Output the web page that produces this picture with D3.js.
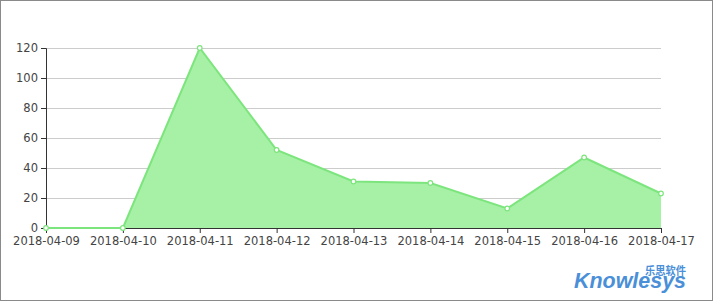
<!DOCTYPE html>
<html>
<head>
<meta charset="utf-8">
<script src="https://cdn.jsdelivr.net/npm/d3@7"></script>
<style>
  body { margin: 0; background: #fff; }
  svg { display: block; }
</style>
</head>
<body>
<script>
"use strict";

const dates = ["2018-04-09", "2018-04-10", "2018-04-11", "2018-04-12", "2018-04-13",
  "2018-04-14", "2018-04-15", "2018-04-16", "2018-04-17"];
const counts = [0, 0, 120, 52, 31, 30, 13, 47, 23];
const yTicks = [0, 20, 40, 60, 80, 100, 120];

const width = 715, height = 303;
const margin = { left: 46, right: 54, top: 48, bottom: 75 };

let svg = d3.select("body").append("svg")
  .attr("width", width)
  .attr("height", height);

// frame
svg.append("rect")
  .attr("x", 0.5).attr("y", 0.5)
  .attr("width", 712).attr("height", 300)
  .attr("fill", "#fff")
  .attr("stroke", "#8a8a8a");

let x = d3.scalePoint()
  .domain(dates)
  .range([margin.left, width - margin.right]);

let y = d3.scaleLinear()
  .domain([0, 120])
  .range([height - margin.bottom, margin.top]);

// grid
svg.append("g")
  .selectAll("line")
  .data(yTicks.filter(d => d > 0))
  .enter()
  .append("line")
  .attr("x1", margin.left).attr("x2", width - margin.right)
  .attr("y1", d => Math.round(y(d)) + 0.5)
  .attr("y2", d => Math.round(y(d)) + 0.5)
  .attr("stroke", "#cccccc");

// axes (drawn under the series)
let yAxis = svg.append("g")
  .attr("transform", `translate(${margin.left},0)`)
  .call(d3.axisLeft(y).tickValues(yTicks).tickSizeOuter(0).tickSize(5).tickPadding(3));

let xAxis = svg.append("g")
  .attr("transform", `translate(0,${y(0)})`)
  .call(d3.axisBottom(x).tickSizeOuter(0).tickSize(5).tickPadding(4));

[xAxis, yAxis].forEach(g => {
  g.select(".domain").attr("stroke", "#333");
  g.selectAll(".tick line").attr("stroke", "#333");
  g.selectAll("text")
    .attr("fill", "#444")
    .style("font-family", "'DejaVu Sans', sans-serif")
    .style("font-size", "11.5px");
});

let rows = dates.map((d, i) => ({ date: d, value: counts[i] }));

let area = d3.area()
  .x(d => x(d.date))
  .y0(y(0))
  .y1(d => y(d.value));

let line = d3.line()
  .x(d => x(d.date))
  .y(d => y(d.value));

svg.append("path")
  .datum(rows)
  .attr("d", area)
  .attr("fill", "#a6f1a6");

svg.append("path")
  .datum(rows)
  .attr("d", line)
  .attr("fill", "none")
  .attr("stroke", "#7de57d")
  .attr("stroke-width", 2);

svg.append("g")
  .selectAll("circle")
  .data(rows)
  .enter()
  .append("circle")
  .attr("cx", d => x(d.date))
  .attr("cy", d => y(d.value))
  .attr("r", 2.3)
  .attr("fill", "#fff")
  .attr("stroke", "#7de57d")
  .attr("stroke-width", 1.2);

// logo
let logo = svg.append("g");
logo.append("text")
  .attr("x", 574).attr("y", 288)
  .attr("textLength", 112)
  .attr("lengthAdjust", "spacingAndGlyphs")
  .attr("fill", "#4a8fd8")
  .style("font-family", "'Liberation Sans', Arial, sans-serif")
  .style("font-weight", "bold")
  .style("font-style", "italic")
  .style("font-size", "22px")
  .text("Knowlesys");
logo.append("text")
  .attr("x", 645).attr("y", 275)
  .attr("textLength", 41)
  .attr("lengthAdjust", "spacingAndGlyphs")
  .attr("fill", "#4a8fd8")
  .style("font-family", "'Noto Sans CJK SC', sans-serif")
  .style("font-weight", "bold")
  .style("font-size", "11px")
  .text("乐思软件");
</script>
</body>
</html>
